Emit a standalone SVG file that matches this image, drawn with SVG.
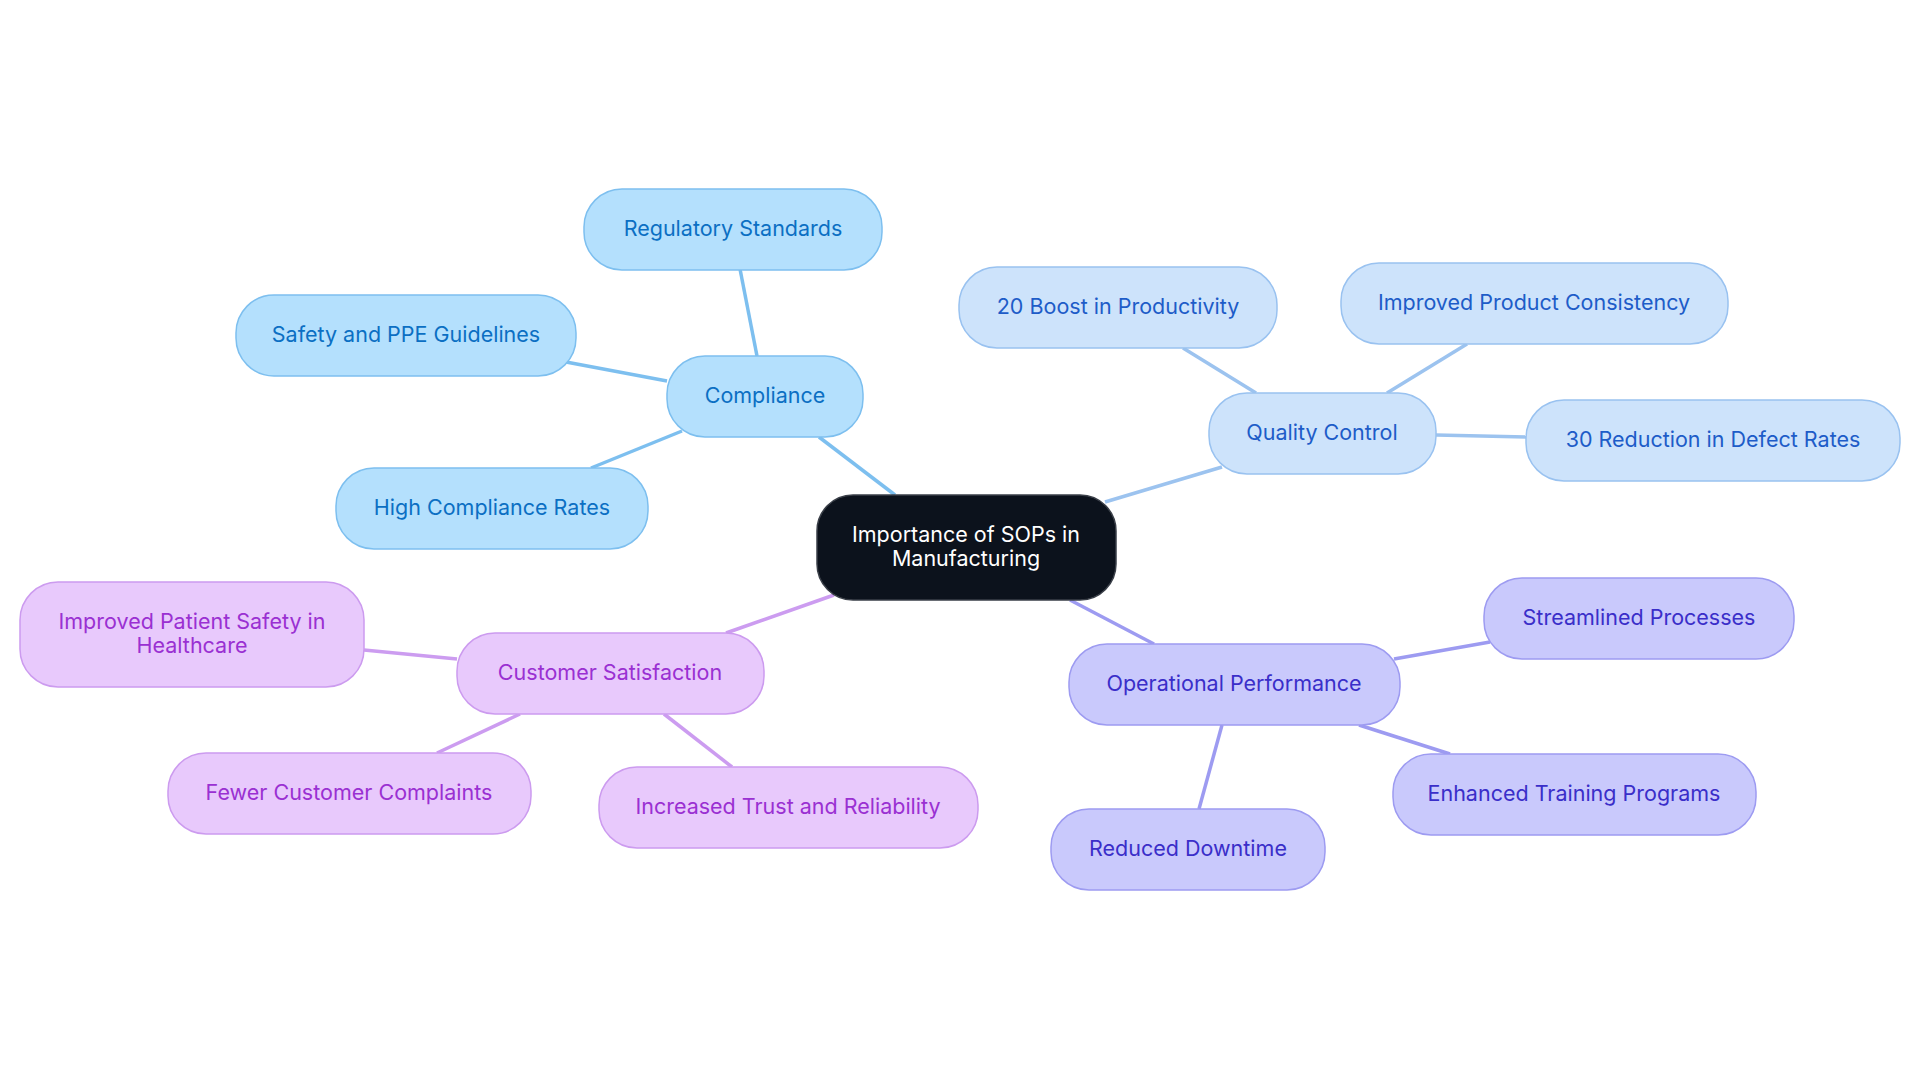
<svg xmlns="http://www.w3.org/2000/svg" width="1920" height="1083" viewBox="0 0 1920 1083">
<style>
text{font-family:Inter,"Noto Sans",sans-serif;font-size:21.5px;text-anchor:middle;dominant-baseline:central}
.n{stroke-width:1.5}
.c rect{fill:#b4e0fd;stroke:#7dbfef}.c text{fill:#0b6fc3}
.q rect{fill:#cde3fb;stroke:#99c2f0}.q text{fill:#1d5cc8}
.o rect{fill:#c9c9fc;stroke:#9d9bf1}.o text{fill:#3a2ec9}
.s rect{fill:#e8c9fc;stroke:#cc9bef}.s text{fill:#9a30d2}
#connectors line{stroke-width:3.5;fill:none}
.lc{stroke:#7dbfef}.lq{stroke:#9cc3ef}.lo{stroke:#9d9bf1}.ls{stroke:#cc9cf0}
</style>
<rect width="1920" height="1083" fill="#ffffff"/>
<g id="connectors">
<line class="lc" x1="895" y1="495" x2="819" y2="437"/>
<line class="lc" x1="757" y1="356" x2="740" y2="269"/>
<line class="lc" x1="667" y1="381" x2="566" y2="362"/>
<line class="lc" x1="682" y1="431" x2="591" y2="468"/>
<line class="lq" x1="1105" y1="502" x2="1222" y2="467"/>
<line class="lq" x1="1256" y1="393" x2="1183" y2="348"/>
<line class="lq" x1="1387" y1="393" x2="1467" y2="344"/>
<line class="lq" x1="1436" y1="435" x2="1526" y2="437"/>
<line class="lo" x1="1070" y1="600" x2="1154" y2="644"/>
<line class="lo" x1="1394" y1="659" x2="1490" y2="642"/>
<line class="lo" x1="1359" y1="725" x2="1450" y2="754"/>
<line class="lo" x1="1222" y1="725" x2="1199" y2="809"/>
<line class="ls" x1="834" y1="595" x2="726" y2="633"/>
<line class="ls" x1="457" y1="659" x2="364" y2="650"/>
<line class="ls" x1="520" y1="714" x2="437" y2="753"/>
<line class="ls" x1="664" y1="714" x2="732" y2="767"/>
</g>
<g id="center">
<rect x="817" y="495" width="299" height="105" rx="36" fill="#0c121c" stroke="#3a3f48" stroke-width="1.5"/>
<text x="966" y="534" fill="#ffffff">Importance of SOPs in</text>
<text x="966" y="558" fill="#ffffff">Manufacturing</text>
</g>
<g id="compliance" class="c n"><rect x="667" y="356" width="196" height="81" rx="38"/><text x="765" y="394.5">Compliance</text></g>
<g id="regulatory" class="c n"><rect x="584" y="189" width="298" height="81" rx="38"/><text x="733" y="227.5">Regulatory Standards</text></g>
<g id="safety" class="c n"><rect x="236" y="295" width="340" height="81" rx="38"/><text x="406" y="333.5">Safety and PPE Guidelines</text></g>
<g id="highcompliance" class="c n"><rect x="336" y="468" width="312" height="81" rx="38"/><text x="492" y="506.5">High Compliance Rates</text></g>
<g id="quality" class="q n"><rect x="1209" y="393" width="227" height="81" rx="38"/><text x="1322" y="431.5">Quality Control</text></g>
<g id="productivity" class="q n"><rect x="959" y="267" width="318" height="81" rx="38"/><text x="1118" y="305.5">20 Boost in Productivity</text></g>
<g id="consistency" class="q n"><rect x="1341" y="263" width="387" height="81" rx="38"/><text x="1534" y="301.5">Improved Product Consistency</text></g>
<g id="defects" class="q n"><rect x="1526" y="400" width="374" height="81" rx="38"/><text x="1713" y="438.5">30 Reduction in Defect Rates</text></g>
<g id="operational" class="o n"><rect x="1069" y="644" width="331" height="81" rx="38"/><text x="1234" y="682.5">Operational Performance</text></g>
<g id="streamlined" class="o n"><rect x="1484" y="578" width="310" height="81" rx="38"/><text x="1639" y="616.5">Streamlined Processes</text></g>
<g id="training" class="o n"><rect x="1393" y="754" width="363" height="81" rx="38"/><text x="1574" y="792.5">Enhanced Training Programs</text></g>
<g id="downtime" class="o n"><rect x="1051" y="809" width="274" height="81" rx="38"/><text x="1188" y="847.5">Reduced Downtime</text></g>
<g id="customer" class="s n"><rect x="457" y="633" width="307" height="81" rx="38"/><text x="610" y="671.5">Customer Satisfaction</text></g>
<g id="patient" class="s n"><rect x="20" y="582" width="344" height="105" rx="38"/><text x="192" y="621">Improved Patient Safety in</text><text x="192" y="645">Healthcare</text></g>
<g id="complaints" class="s n"><rect x="168" y="753" width="363" height="81" rx="38"/><text x="349" y="791.5">Fewer Customer Complaints</text></g>
<g id="trust" class="s n"><rect x="599" y="767" width="379" height="81" rx="38"/><text x="788" y="805.5">Increased Trust and Reliability</text></g>
</svg>
